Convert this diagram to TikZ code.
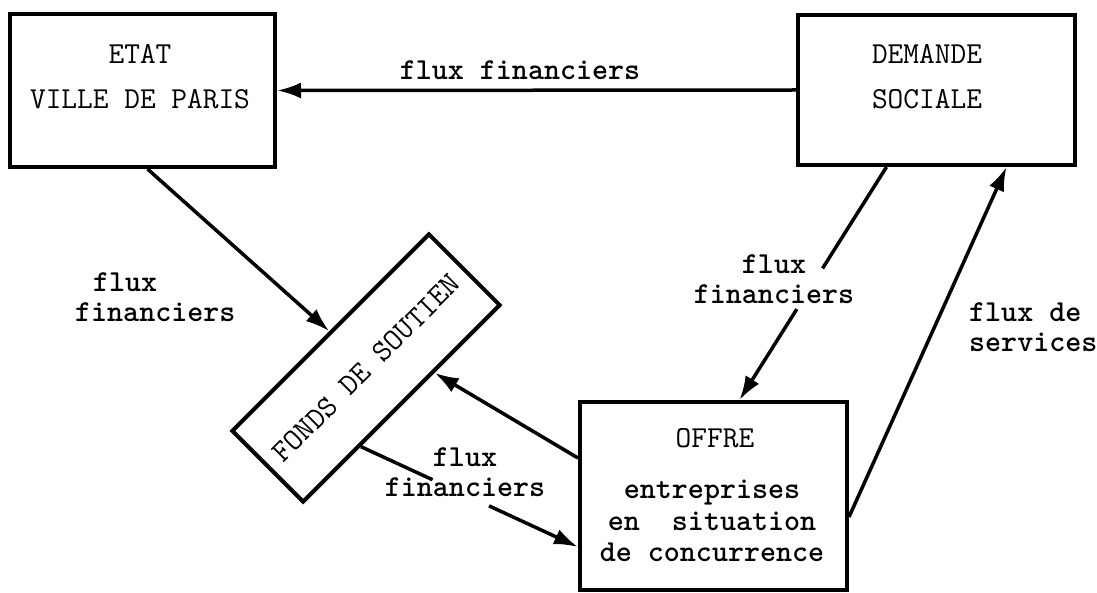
\documentclass[tikz,border=0pt]{standalone}
\usetikzlibrary{arrows.meta,calc}
\begin{document}
\begin{tikzpicture}[x=1pt,y=-1pt,
  box/.style={draw, line width=4pt, inner sep=0pt},
  caps/.style={font=\ttfamily\fontsize{30.5}{45}\selectfont, align=center, inner sep=0pt},
  lbl/.style={font=\ttfamily\bfseries\fontsize{30.5}{30}\selectfont, align=center, inner sep=0pt},
  flow/.style={line width=3.5pt, -{Latex[length=24pt,width=16pt]}},
  plain/.style={line width=3.5pt},
]
\useasboundingbox (0,0) rectangle (1097,593);
\fill[white] (0,0) rectangle (1097,593);

% boxes
\node[box, minimum width=265pt, minimum height=153pt] (etat) at (142.5,90.5) {};
\node[caps] (etatT) at (140,77) {ETAT\\VILLE DE PARIS};

\node[box, minimum width=277pt, minimum height=150pt] (demande) at (936.5,90) {};
\node[caps] (demandeT) at (927,77) {DEMANDE\\SOCIALE};

\node[box, minimum width=267pt, minimum height=188pt] (offre) at (713.5,496) {};
\node[caps] (offreT) at (715,438) {OFFRE};
\node[lbl, font=\ttfamily\bfseries\fontsize{30.5}{31.5}\selectfont] (offreS) at (712,521) {entreprises\\en~~situation\\de concurrence};

\node[box, rotate=45, minimum width=278pt, minimum height=100pt,
      font=\ttfamily\fontsize{30.5}{30}\selectfont] (fonds) at (366,368) {FONDS DE SOUTIEN};

% labels
\node[lbl] (l1) at (520,70) {flux financiers};
\node[lbl, anchor=west, align=left] (l2) at (75,297) {\hspace*{18pt}flux\\financiers};
\node[lbl] (l3) at (774,279) {flux\\financiers};
\node[lbl] (l4) at (465,472) {flux\\financiers};
\node[lbl, anchor=west, align=left] (l5) at (969,327) {flux de\\services};

% connectors
\draw[flow] (demande.west) -- (etat.east);
\draw[flow] ([xshift=5pt]etat.south) -- (fonds.north);
\draw[flow] ([yshift=38pt]offre.west) -- ($(fonds.south)!0.32!(fonds.south east)$);

\coordinate (ff1) at ($(fonds.south)!0.42!(fonds.south west)$);
\coordinate (ff2) at ([yshift=-51pt]offre.west);
\draw[plain] (ff1) -- ($(ff1)!0.33!(ff2)$);
\draw[flow] ($(ff1)!0.59!(ff2)$) -- (ff2);

\coordinate (do1) at ([xshift=-50pt]demande.south);
\coordinate (do2) at ([xshift=26pt]offre.north);
\draw[plain] (do1) -- ($(do1)!0.435!(do2)$);
\draw[flow] ($(do1)!0.61!(do2)$) -- (do2);

\draw[flow] ([yshift=-21pt]offre.east) -- ([xshift=70pt]demande.south);
\end{tikzpicture}
\end{document}
